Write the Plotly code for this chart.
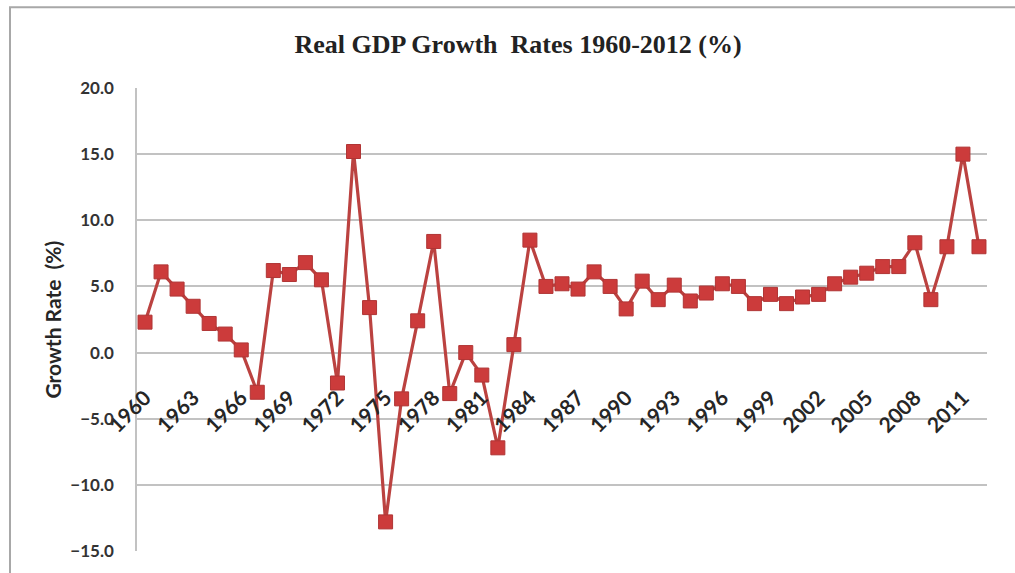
import plotly.graph_objects as go

years = list(range(1960, 2013))
growth = [2.3, 6.1, 4.8, 3.5, 2.2, 1.4, 0.2, -3.0, 6.2, 5.9,
          6.8, 5.5, -2.3, 15.2, 3.4, -12.8, -3.5, 2.4, 8.4, -3.1,
          0.0, -1.7, -7.2, 0.6, 8.5, 5.0, 5.2, 4.8, 6.1, 5.0,
          3.3, 5.4, 4.0, 5.1, 3.9, 4.5, 5.2, 5.0, 3.7, 4.4,
          3.7, 4.2, 4.4, 5.2, 5.7, 6.0, 6.5, 6.5, 8.3, 4.0,
          8.0, 15.0, 8.0]
tick_years = list(range(1960, 2012, 3))
tick_text = [str(y) for y in tick_years]

title_text = "Real GDP Growth\u00a0 Rates 1960-2012 (%)"
ytitle_text = "Growth Rate\u00a0 (%)"

W, H = 1015, 573
L, R, T, B = 137, 28, 88, 15
pw, ph = W - L - R, H - T - B
ymin, ymax = -15, 20

fig = go.Figure()
fig.add_trace(go.Scatter(
    x=years, y=growth, mode="lines+markers",
    line=dict(color="#bb4240", width=3.2),
    marker=dict(symbol="square", size=14, color="#cc3b3b",
                line=dict(color="#b03535", width=1)),
    showlegend=False,
))

fig.update_layout(
    width=W, height=H,
    margin=dict(l=L, r=R, t=T, b=B),
    paper_bgcolor="white", plot_bgcolor="white",
    title=dict(text=title_text, x=518 / W, xanchor="center",
               y=1 - 44 / H, yanchor="middle", yref="container",
               font=dict(family="Liberation Serif", size=26, color="#222222",
                         weight="bold")),
    xaxis=dict(range=[1959.5, 2012.5], tickmode="array",
               tickvals=tick_years, ticktext=tick_text, tickangle=-45,
               anchor="free", position=(0 - ymin) / (ymax - ymin),
               showgrid=False, zeroline=False, showline=False, ticks="",
               ticklabelstandoff=28,
               tickfont=dict(family="Lato", size=21, color="#262626",
                             weight="bold")),
    yaxis=dict(range=[ymin, ymax], dtick=5, tickformat=".1f",
               showgrid=True, gridcolor="#c2c2c2", gridwidth=2.2,
               zeroline=False, showline=True, linecolor="#c2c2c2",
               linewidth=1.5, ticks="", ticklabelstandoff=18,
               tickfont=dict(family="Lato", size=17, color="#333333",
                             weight="bold")),
    annotations=[dict(text=ytitle_text, xref="paper", yref="paper",
                      x=(52 - L) / pw, y=(H - B - 323) / ph,
                      xanchor="center", yanchor="middle", textangle=-90,
                      showarrow=False,
                      font=dict(family="Lato", size=21, color="#262626",
                                weight="bold"))],
    shapes=[dict(type="rect", xref="paper", yref="paper",
                 x0=(10 - L) / pw, x1=(W + 20 - L) / pw,
                 y0=-0.2, y1=(H - B - 6) / ph,
                 line=dict(color="#a8a8a8", width=2),
                 fillcolor="rgba(0,0,0,0)", layer="below")],
)

fig.write_html("out.html")
